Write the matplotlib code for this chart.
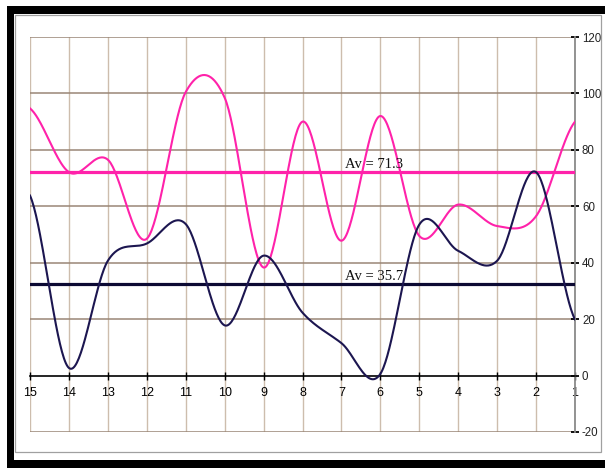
import numpy as np
import matplotlib

matplotlib.use("Agg")
import matplotlib.pyplot as plt
from matplotlib.patches import Rectangle


X_VALUES = list(range(15, 0, -1))
PINK_VALUES = [94.7, 72.1, 76.5, 48.5, 100.5, 98.5, 38.3, 90.0, 47.8, 92.0, 49.5, 60.6, 53.0, 56.5, 90.0]
NAVY_VALUES = [63.8, 2.7, 40.7, 46.8, 53.7, 17.8, 42.5, 22.3, 11.5, 0.6, 53.5, 44.2, 40.7, 72.1, 19.9]
PINK_AVG = 72.1
NAVY_AVG = 32.4
PINK_LABEL = "Av = 71.3"
NAVY_LABEL = "Av = 35.7"
Y_TICKS = [-20, 0, 20, 40, 60, 80, 100, 120]

PINK = "#ff22aa"
NAVY = "#1c1650"
SANS = ["Liberation Sans", "DejaVu Sans"]
SERIF = ["Liberation Serif", "DejaVu Serif"]


def excel_smooth(xs, ys, steps=40):
    # Excel style smoothed line: bezier with control points at +-(P[i+1]-P[i-1])/6
    xs = np.asarray(xs, dtype=float)
    ys = np.asarray(ys, dtype=float)
    n = len(ys)
    out_x, out_y = [], []
    for i in range(n - 1):
        y_prev = ys[i - 1] if i > 0 else ys[i]
        y_next2 = ys[i + 2] if i + 2 < n else ys[i + 1]
        c1 = ys[i] + (ys[i + 1] - y_prev) / 6
        c2 = ys[i + 1] - (y_next2 - ys[i]) / 6
        t = np.linspace(0, 1, steps)
        yy = (1 - t) ** 3 * ys[i] + 3 * (1 - t) ** 2 * t * c1 + 3 * (1 - t) * t ** 2 * c2 + t ** 3 * ys[i + 1]
        xx = xs[i] + (xs[i + 1] - xs[i]) * t
        out_x.extend(xx)
        out_y.extend(yy)
    return np.array(out_x), np.array(out_y)


W, H = 605, 468
fig = plt.figure(figsize=(W / 100, H / 100), dpi=100)
fig.patch.set_facecolor("white")


def fig_rect(x0, y0, x1, y1, **kw):
    # pixel coords measured from top-left
    fig.patches.append(Rectangle((x0 / W, 1 - y1 / H), (x1 - x0) / W, (y1 - y0) / H,
                                 transform=fig.transFigure, **kw))


fig_rect(7, 6, 605, 13.5, facecolor="black", edgecolor="none")
fig_rect(7, 6, 14, 468, facecolor="black", edgecolor="none")
fig_rect(7, 460, 605, 468, facecolor="black", edgecolor="none")
fig_rect(15, 15, 601, 452, facecolor="none", edgecolor="#a0a0a0", linewidth=0.9)

ax = fig.add_axes([30 / W, 1 - 432 / H, 545 / W, 395 / H])
ax.set_facecolor("white")
ax.set_xlim(15, 1)
ax.set_ylim(-20, 120)

for xv in X_VALUES:
    ax.axvline(xv, color="#cdbdad", linewidth=1.0, zorder=1)
for yv in Y_TICKS:
    if yv != 0:
        ax.axhline(yv, color="#9a8676", linewidth=1.1, zorder=1)

px, py = excel_smooth(X_VALUES, PINK_VALUES)
nx, ny = excel_smooth(X_VALUES, NAVY_VALUES)
ax.plot(px, py, color=PINK, linewidth=1.5, zorder=4)
ax.plot(nx, ny, color=NAVY, linewidth=1.5, zorder=4)

ax.axhline(PINK_AVG, color=PINK, linewidth=2.3, zorder=3)
ax.axhline(NAVY_AVG, color="#0c0a33", linewidth=2.3, zorder=3)
ax.text(6.15, PINK_AVG + 0.3, PINK_LABEL, ha="center", va="bottom", fontsize=10.5,
        family=SERIF, color="#111111", zorder=5)
ax.text(6.15, NAVY_AVG + 0.3, NAVY_LABEL, ha="center", va="bottom", fontsize=10.5,
        family=SERIF, color="#111111", zorder=5)

for side in ["left", "top"]:
    ax.spines[side].set_visible(False)
ax.spines["bottom"].set_position(("data", 0))
ax.spines["bottom"].set_color("black")
ax.spines["bottom"].set_linewidth(1.2)
ax.spines["right"].set_color("#8a8a8a")
ax.spines["right"].set_linewidth(1.3)

ax.set_xticks(X_VALUES)
ax.set_xticklabels([str(v) for v in X_VALUES], family=SANS, fontsize=9)
ax.tick_params(axis="x", direction="inout", length=6, width=1.0, pad=5, colors="black")

ax.yaxis.tick_right()
ax.set_yticks(Y_TICKS)
ax.set_yticklabels([str(v) for v in Y_TICKS], family=SANS, fontsize=8.3)
ax.tick_params(axis="y", direction="inout", length=6, width=1.3, pad=2, color="black",
               labelcolor="#222222")

fig.savefig("out.png", dpi=100)
